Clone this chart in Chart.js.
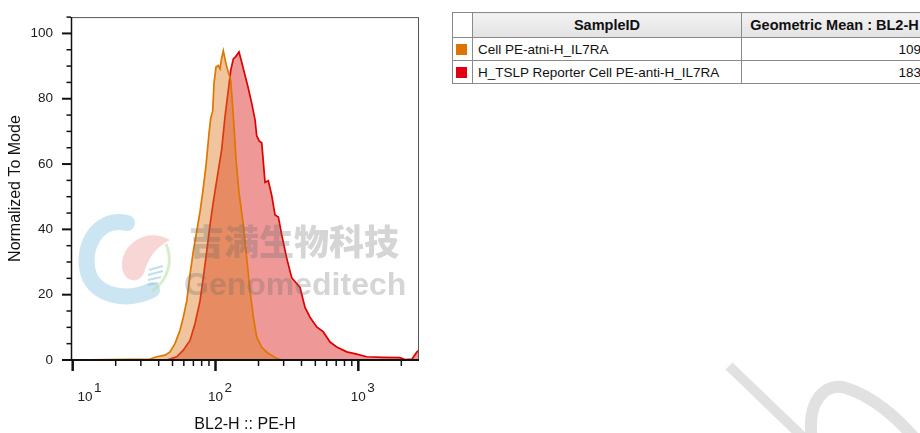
<!DOCTYPE html>
<html>
<head>
<meta charset="utf-8">
<script src="https://cdn.jsdelivr.net/npm/chart.js@4/dist/chart.umd.min.js"></script>
<style>
  html, body { margin: 0; padding: 0; background: #fff; }
  body { width: 920px; height: 433px; overflow: hidden; position: relative; font-family: Arial, "Liberation Sans", sans-serif; }
  #plot { position: absolute; left: 0; top: 0; width: 440px; height: 433px; }
  #legend { position: absolute; left: 452px; top: 12px; border-collapse: collapse; color: #111; table-layout: fixed; width: 475px; }
  #legend td, #legend th { border: 1px solid #8a8a8a; padding: 0 5px; white-space: nowrap; overflow: hidden; }
  #legend th { height: 24px; font-size: 14.5px; font-weight: bold; background: linear-gradient(#f3f3f3, #e2e2e2); text-align: center; }
  #legend th.blank { background: #fff; }
  #legend td { height: 22px; font-size: 13.5px; }
  #legend td.num { text-align: right; padding-right: 6px; }
  #legend td.sw { padding: 0 0 0 3px; }
  .swatch { width: 11px; height: 11px; display: block; }
  #wm { position: absolute; left: 0; top: 0; width: 920px; height: 433px; pointer-events: none; }
  .wmtext { position: absolute; color: rgba(105,105,105,0.28); font-weight: 900; white-space: nowrap; pointer-events: none; }
</style>
</head>
<body>
<div id="plot"><canvas id="histChart"></canvas></div>
<table id="legend">
  <colgroup><col style="width:20px"><col style="width:269px"><col style="width:186px"></colgroup>
  <thead><tr><th class="blank"></th><th>SampleID</th><th>Geometric Mean : BL2-H</th></tr></thead>
  <tbody id="legendBody"></tbody>
</table>
<svg id="wm" viewBox="0 0 920 433">
  <path d="M127 223 C95 216 79 252 90 278 C101 298 131 301 152 290" fill="none" stroke="rgba(160,210,232,0.55)" stroke-width="16" stroke-linecap="round"/>
  <path d="M170 240 C150 228 125 240 122 262 C120 280 137 287 144 273 C148 258 155 248 170 240 Z" fill="rgba(240,165,165,0.45)"/>
  <path d="M166 244 C173 260 169 280 152 291" fill="none" stroke="rgba(190,225,170,0.6)" stroke-width="3"/>
  <path d="M149 270 L163 266 M148 275 L163 271 M148 280 L161 277 M148 285 L158 283" stroke="rgba(150,200,230,0.6)" stroke-width="2"/>
  <path d="M729 366 L806 440" stroke="#e1e1e1" stroke-width="10"/>
  <path d="M812 440 C806 400 826 382 846 388 C872 396 898 418 916 440" fill="none" stroke="#e1e1e1" stroke-width="12"/>
</svg>
<div class="wmtext" style="left:189px; top:219px; font-size:35px; font-family:'Noto Sans CJK SC', sans-serif; line-height:42px;">吉满生物科技</div>
<div class="wmtext" style="left:184px; top:265px; font-size:32px; font-family:Arial, 'Liberation Sans', sans-serif; font-weight:bold; line-height:38px;">Genomeditech</div>
<script>
// histogram values (x = BL2-H intensity, y = % of mode)
const orangeX = [9.8, 34.8, 38.7, 44.3, 48.0, 52.0, 56.4, 59.5, 62.9, 66.3, 69.9, 73.8, 77.9, 81.4, 85.8, 90.1, 92.6, 95.6, 97.6, 100.8, 104.6, 107.5, 110.2, 113.4, 118.5, 121.8, 124.9, 127.8, 133.3, 139.2, 146, 156.6, 165.4, 174.4, 184.0, 194.4, 210.7, 234.3, 268.3, 292, 2660]
const orangeY = [0, 0.3, 1.0, 1.5, 2.5, 5.0, 9.1, 13.1, 18.1, 26.2, 33.3, 39.3, 45.4, 51.4, 59.6, 69.5, 74.1, 76.2, 84.7, 89.7, 90.2, 89.2, 92.2, 94.7, 90.7, 88.7, 87.2, 85.7, 74.7, 61.5, 51.4, 41.3, 31.2, 21.2, 13.1, 7.0, 3.9, 2.0, 0.5, 0, 0]

const redX = [9.8, 45.5, 53.5, 59.5, 66.3, 71.8, 77.9, 82.1, 86.8, 91.5, 96.5, 110.5, 116.6, 122.9, 127.8, 133.3, 138.5, 146.1, 152.6, 160.9, 169.7, 179.3, 189.1, 194.4, 202.7, 210.7, 222.2, 234.3, 247.5, 261.1, 275.4, 290.8, 315.2, 341.6, 390.6, 423.4, 459, 511.3, 568.7, 633.8, 706, 829.5, 974.5, 1145, 1497, 1959, 2123, 2377, 2565, 2660]
const redY = [0, 0, 1.0, 3.0, 6.0, 11.1, 18.1, 25.2, 33.3, 41.3, 48.4, 64.5, 74.6, 82.6, 88.7, 92.2, 92.9, 94.3, 91.2, 87.2, 83.2, 78.6, 73.6, 68.6, 67.0, 66.5, 54.4, 54.9, 50.4, 44.4, 43.8, 38.3, 31.2, 25.2, 22.2, 16.1, 13.1, 10.1, 8.6, 5.5, 4.0, 2.5, 1.8, 1.0, 0.8, 0.7, 0.15, 0.3, 2.4, 3.0]

const sampleNames = ["Cell PE-atni-H_IL7RA", "H_TSLP Reporter Cell PE-anti-H_IL7RA"]
const geoMeans = [109, 183]
const sampleColors = ["#dd7300", "#e00010"]

const xMajor = [10, 100, 1000]
const xExponents = ["1", "2", "3"]
const xMinor = [20, 30, 40, 50, 60, 70, 80, 90, 200, 300, 400, 500, 600, 700, 800, 900, 2000]
const yMajor = [0, 20, 40, 60, 80, 100]
const yMinor = [5, 10, 15, 25, 30, 35, 45, 50, 55, 65, 70, 75, 85, 90, 95, 105]

// legend table
const body = document.getElementById("legendBody")
sampleNames.forEach((name, i) => {
  const tr = document.createElement("tr")
  tr.innerHTML = `<td class="sw"><span class="swatch" style="background:${sampleColors[i]}"></span></td><td>${name}</td><td class="num">${geoMeans[i]}</td>`
  body.appendChild(tr)
})

const toPoints = (xs, ys) => xs.map((x, i) => ({ x, y: ys[i] }))

const axisDecor = {
  id: "axisDecor",
  afterDraw(chart) {
    const { ctx, chartArea: a, scales: { x, y } } = chart
    ctx.save()
    ctx.strokeStyle = "#555"
    ctx.lineWidth = 1
    ctx.strokeRect(a.left + 0.5, a.top + 0.5, a.right - a.left - 1, a.bottom - a.top)

    ctx.strokeStyle = "#111"
    ctx.lineWidth = 1.5
    ctx.beginPath()
    ctx.moveTo(a.left + 0.5, a.top)
    ctx.lineTo(a.left + 0.5, a.bottom)
    ctx.stroke()
    ctx.lineWidth = 2
    ctx.beginPath()
    ctx.moveTo(a.left - 9, a.bottom)
    ctx.lineTo(a.right, a.bottom)
    ctx.stroke()

    // y ticks
    yMajor.forEach(v => {
      const py = y.getPixelForValue(v)
      ctx.lineWidth = 2
      ctx.beginPath(); ctx.moveTo(a.left - 9, py); ctx.lineTo(a.left, py); ctx.stroke()
    })
    yMinor.forEach(v => {
      const py = y.getPixelForValue(v)
      if (py < a.top) return
      ctx.lineWidth = 1.5
      ctx.beginPath(); ctx.moveTo(a.left - 4.5, py); ctx.lineTo(a.left, py); ctx.stroke()
    })

    // x ticks
    xMajor.forEach(v => {
      const px = x.getPixelForValue(v)
      ctx.lineWidth = 2.5
      ctx.beginPath(); ctx.moveTo(px, a.bottom); ctx.lineTo(px, a.bottom + 11); ctx.stroke()
    })
    xMinor.forEach(v => {
      const px = x.getPixelForValue(v)
      if (px > a.right) return
      ctx.lineWidth = 1.5
      ctx.beginPath(); ctx.moveTo(px, a.bottom); ctx.lineTo(px, a.bottom + 6); ctx.stroke()
    })

    // x tick labels 10^n
    ctx.fillStyle = "#222"
    ctx.font = "13.5px Arial, 'Liberation Sans', sans-serif"
    ctx.textBaseline = "alphabetic"
    xMajor.forEach((v, i) => {
      const cx = Math.max(x.getPixelForValue(v), a.left + 14)
      const w = ctx.measureText("10").width
      ctx.textAlign = "left"
      ctx.fillText("10", cx - w / 2, 401)
      ctx.fillText(xExponents[i], cx + w / 2 + 1.5, 392)
    })

    // x title
    ctx.font = "16px Arial, 'Liberation Sans', sans-serif"
    ctx.textAlign = "center"
    ctx.textBaseline = "middle"
    ctx.fillStyle = "#111"
    ctx.fillText("BL2-H :: PE-H", (a.left + a.right) / 2, 425)
    ctx.restore()
  }
}

new Chart(document.getElementById("histChart"), {
  type: "line",
  data: {
    datasets: [
      {
        label: sampleNames[0],
        data: toPoints(orangeX, orangeY),
        borderColor: "#de7600",
        backgroundColor: "rgba(222, 124, 35, 0.45)",
        borderWidth: 1.7,
        pointRadius: 0,
        tension: 0,
        fill: "origin"
      },
      {
        label: sampleNames[1],
        data: toPoints(redX, redY),
        borderColor: "#e00000",
        backgroundColor: "rgba(222, 40, 40, 0.48)",
        borderWidth: 1.7,
        pointRadius: 0,
        tension: 0,
        fill: "origin"
      }
    ]
  },
  options: {
    responsive: true,
    maintainAspectRatio: false,
    animation: false,
    layout: { padding: { top: 13, right: 21, left: 0, bottom: 0 } },
    plugins: { legend: { display: false }, tooltip: { enabled: false } },
    scales: {
      x: {
        type: "logarithmic",
        min: 9.73,
        max: 2660,
        ticks: { display: false },
        grid: { display: false },
        border: { display: false },
        afterFit: s => { s.height = 73 }
      },
      y: {
        min: 0,
        max: 105,
        afterBuildTicks: s => { s.ticks = yMajor.map(v => ({ value: v })) },
        afterFit: s => { s.width = 71 },
        ticks: { color: "#1a1a1a", font: { size: 13.5, family: "Arial, 'Liberation Sans', sans-serif" }, padding: 9 },
        grid: { display: false, tickLength: 9 },
        border: { display: false },
        title: {
          display: true,
          text: "Normalized To Mode",
          color: "#111",
          font: { size: 16, family: "Arial, 'Liberation Sans', sans-serif" },
          padding: { top: 6, bottom: 0 }
        }
      }
    }
  },
  plugins: [axisDecor]
})
</script>
</body>
</html>
